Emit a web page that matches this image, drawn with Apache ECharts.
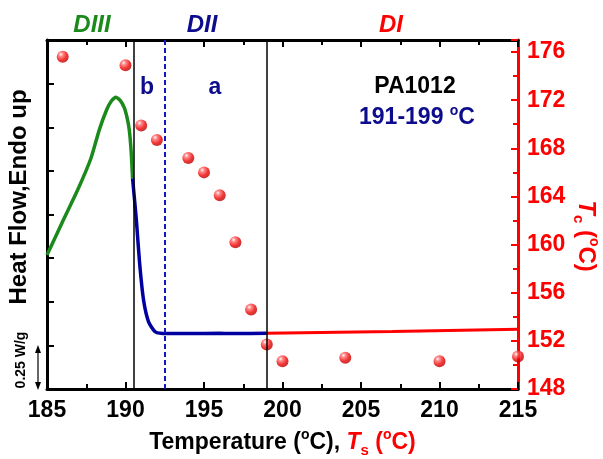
<!DOCTYPE html>
<html>
<head>
<meta charset="utf-8">
<script src="https://cdn.jsdelivr.net/npm/echarts@6/dist/echarts.min.js"></script>
<style>
  html, body { margin: 0; padding: 0; background: #fff; }
  #chart { width: 603px; height: 459px; }
</style>
</head>
<body>
<div id="chart"></div>
<script>
// DSC curve, region DIII (green)
const diiiTemp = [185.0, 186.1, 186.95, 187.8, 188.33, 188.8, 189.1, 189.39, 189.65, 189.92, 190.1, 190.24, 190.36, 190.45];
const diiiFlow = [3.07, 3.92, 4.56, 5.29, 5.94, 6.4, 6.6, 6.69, 6.62, 6.45, 6.22, 5.94, 5.45, 4.83];

// DSC curve, region DII (blue)
const diiTemp = [190.45, 190.69, 190.9, 191.15, 191.47, 191.9, 192.64, 194.0, 196.0, 197.0, 199.0];
const diiFlow = [4.83, 3.88, 2.88, 2.04, 1.54, 1.31, 1.27, 1.27, 1.28, 1.27, 1.28];

// DSC curve, region DI (red)
const diTemp = [199.0, 207.0, 215.0];
const diFlow = [1.28, 1.32, 1.37];

// crystallization temperature Tc vs self-nucleation temperature Ts
const tsValues = [186, 190, 191, 192, 194, 195, 196, 197, 198, 199, 200, 204, 210, 215];
const tcValues = [175.6, 174.9, 169.9, 168.7, 167.2, 166.0, 164.1, 160.2, 154.6, 151.7, 150.3, 150.6, 150.3, 150.7];

// region borders
const solidBorders = [190.5, 199];
const dashedBorder = [192.5];

const xTicks = { min: 185, max: 215, step: 5 };
const tcTicks = { min: 148, max: 177, step: 4 };

const FONT = 'Liberation Sans, Arial, sans-serif';
const GREEN = '#1a8a1a';
const NAVY = '#0c0c8c';
const RED = '#ff0000';

function pairs(xs, ys) {
    return xs.map((x, i) => [x, ys[i]]);
}

const chart = echarts.init(document.getElementById('chart'));

const sphere = {
    type: 'radial', x: 0.35, y: 0.3, r: 0.75,
    colorStops: [
        { offset: 0, color: '#ffffff' },
        { offset: 0.22, color: '#ff7070' },
        { offset: 0.65, color: '#ee0000' },
        { offset: 1, color: '#b00000' }
    ]
};

const option = {
    animation: false,
    grid: { left: 47, right: 85, top: 40, bottom: 70, containLabel: false, outerBoundsMode: 'none' },
    xAxis: [{
        type: 'value',
        min: xTicks.min, max: xTicks.max, interval: xTicks.step,
        axisLine: { lineStyle: { color: '#000', width: 3 } },
        axisTick: { inside: true, length: 7, lineStyle: { width: 2, color: '#000' } },
        minorTick: { show: true, splitNumber: 2, length: 5, lineStyle: { width: 2, color: '#000' } },
        splitLine: { show: false },
        axisLabel: { margin: 10, fontSize: 23, fontWeight: 'bold', color: '#000', fontFamily: FONT },
        name: '{b|Temperature (}{sup|o}{b|C), }{t|T}{sub|s}{r| (}{rsup|o}{r|C)}',
        nameLocation: 'middle',
        nameGap: 39,
        nameTextStyle: {
            rich: {
                b: { fontSize: 23, fontWeight: 'bold', color: '#000', fontFamily: FONT, lineHeight: 30 },
                sup: { fontSize: 14, fontWeight: 'bold', color: '#000', fontFamily: FONT, verticalAlign: 'top', lineHeight: 16 },
                t: { fontSize: 23, fontWeight: 'bold', fontStyle: 'italic', color: RED, fontFamily: FONT, lineHeight: 30 },
                sub: { fontSize: 15, fontWeight: 'bold', color: RED, fontFamily: FONT, verticalAlign: 'bottom', lineHeight: 16 },
                r: { fontSize: 23, fontWeight: 'bold', color: RED, fontFamily: FONT, lineHeight: 30 },
                rsup: { fontSize: 14, fontWeight: 'bold', color: RED, fontFamily: FONT, verticalAlign: 'top', lineHeight: 16 }
            }
        }
    }, {
        type: 'value',
        position: 'top',
        min: xTicks.min, max: xTicks.max, interval: xTicks.step,
        axisLine: { lineStyle: { color: '#000', width: 3 } },
        axisTick: { inside: true, length: 7, lineStyle: { width: 2, color: '#000' } },
        minorTick: { show: true, splitNumber: 2, length: 5, lineStyle: { width: 2, color: '#000' } },
        splitLine: { show: false },
        axisLabel: { show: false }
    }],
    yAxis: [{
        type: 'value',
        min: 0, max: 8, interval: 1,
        axisLine: { show: true, lineStyle: { color: '#000', width: 3 } },
        axisTick: { show: true, inside: true, length: 7, lineStyle: { width: 2, color: '#000' } },
        splitLine: { show: false },
        axisLabel: { show: false }
    }, {
        type: 'value',
        position: 'right',
        min: tcTicks.min, max: tcTicks.max, interval: tcTicks.step,
        axisLine: { show: true, lineStyle: { color: RED, width: 3 } },
        axisTick: { show: true, inside: true, length: 7, lineStyle: { width: 2, color: RED } },
        minorTick: { show: true, splitNumber: 2, length: 5, lineStyle: { width: 2, color: RED } },
        splitLine: { show: false },
        axisLabel: {
            margin: 9, fontSize: 23, fontWeight: 'bold', color: RED, fontFamily: FONT,
            formatter: v => (v - tcTicks.min) % tcTicks.step === 0 ? String(v) : ''
        }
    }],
    series: [{
        name: 'DIII',
        type: 'line',
        xAxisIndex: 0, yAxisIndex: 0,
        data: pairs(diiiTemp, diiiFlow),
        smooth: 0.2,
        showSymbol: false,
        lineStyle: { color: GREEN, width: 3.5 },
        z: 3,
        markLine: {
            silent: true,
            symbol: 'none',
            label: { show: false },
            lineStyle: { color: '#000', width: 1.5, type: 'solid' },
            data: solidBorders.map(v => ({ xAxis: v }))
        }
    }, {
        name: 'DII',
        type: 'line',
        xAxisIndex: 0, yAxisIndex: 0,
        data: pairs(diiTemp, diiFlow),
        smooth: 0.2,
        showSymbol: false,
        lineStyle: { color: '#0000a0', width: 3.5 },
        z: 3,
        markLine: {
            silent: true,
            symbol: 'none',
            label: { show: false },
            lineStyle: { color: '#1414c8', width: 2, type: [5, 3] },
            data: dashedBorder.map(v => ({ xAxis: v }))
        }
    }, {
        name: 'DI',
        type: 'line',
        xAxisIndex: 0, yAxisIndex: 0,
        data: pairs(diTemp, diFlow),
        showSymbol: false,
        lineStyle: { color: RED, width: 3 },
        z: 3
    }, {
        name: 'Tc',
        type: 'scatter',
        xAxisIndex: 0, yAxisIndex: 1,
        data: pairs(tsValues, tcValues),
        symbolSize: 12,
        itemStyle: { color: sphere },
        z: 4
    }],
    graphic: [
        { type: 'text', x: 92, y: 25, style: { text: 'DIII', fill: GREEN, font: 'italic bold 24px ' + FONT, align: 'center', verticalAlign: 'middle' } },
        { type: 'text', x: 202, y: 25, style: { text: 'DII', fill: NAVY, font: 'italic bold 24px ' + FONT, align: 'center', verticalAlign: 'middle' } },
        { type: 'text', x: 391, y: 25, style: { text: 'DI', fill: RED, font: 'italic bold 24px ' + FONT, align: 'center', verticalAlign: 'middle' } },
        { type: 'text', x: 147, y: 88, style: { text: 'b', fill: NAVY, font: 'bold 23px ' + FONT, align: 'center', verticalAlign: 'middle' } },
        { type: 'text', x: 215, y: 88, style: { text: 'a', fill: NAVY, font: 'bold 23px ' + FONT, align: 'center', verticalAlign: 'middle' } },
        { type: 'text', x: 415, y: 87, style: { text: 'PA1012', fill: '#000', font: 'bold 23px ' + FONT, align: 'center', verticalAlign: 'middle' } },
        {
            type: 'text', x: 417, y: 118,
            style: {
                text: '{n|191-199 }{s|o}{n|C}',
                align: 'center', verticalAlign: 'middle',
                rich: {
                    n: { fontSize: 23, fontWeight: 'bold', fill: NAVY, color: NAVY, fontFamily: FONT, lineHeight: 28 },
                    s: { fontSize: 14, fontWeight: 'bold', fill: NAVY, color: NAVY, fontFamily: FONT, verticalAlign: 'top', lineHeight: 16 }
                }
            }
        },
        {
            type: 'text', x: 19, y: 197, rotation: Math.PI / 2,
            style: { text: 'Heat Flow,Endo up', fill: '#000', font: 'bold 24px ' + FONT, align: 'center', verticalAlign: 'middle' }
        },
        {
            type: 'text', x: 21, y: 360, rotation: Math.PI / 2,
            style: { text: '0.25 W/g', fill: '#000', font: 'bold 14px ' + FONT, align: 'center', verticalAlign: 'middle' }
        },
        // scale bar arrow
        { type: 'line', shape: { x1: 38, y1: 348, x2: 38, y2: 387 }, style: { stroke: '#000', lineWidth: 1.2 } },
        { type: 'polygon', shape: { points: [[38, 345], [35, 353], [41, 353]] }, style: { fill: '#000' } },
        { type: 'polygon', shape: { points: [[38, 390], [35, 382], [41, 382]] }, style: { fill: '#000' } },
        {
            type: 'text', x: 586, y: 236, rotation: -Math.PI / 2,
            style: {
                text: '{t|T}{c|c}{n| (}{s|o}{n|C)}',
                align: 'center', verticalAlign: 'middle',
                rich: {
                    t: { fontSize: 24, fontWeight: 'bold', fontStyle: 'italic', color: RED, fill: RED, fontFamily: FONT, lineHeight: 30 },
                    c: { fontSize: 15, fontWeight: 'bold', color: RED, fill: RED, fontFamily: FONT, verticalAlign: 'bottom', lineHeight: 16 },
                    n: { fontSize: 24, fontWeight: 'bold', color: RED, fill: RED, fontFamily: FONT, lineHeight: 30 },
                    s: { fontSize: 14, fontWeight: 'bold', color: RED, fill: RED, fontFamily: FONT, verticalAlign: 'top', lineHeight: 16 }
                }
            }
        }
    ]
};

chart.setOption(option);
</script>
</body>
</html>
